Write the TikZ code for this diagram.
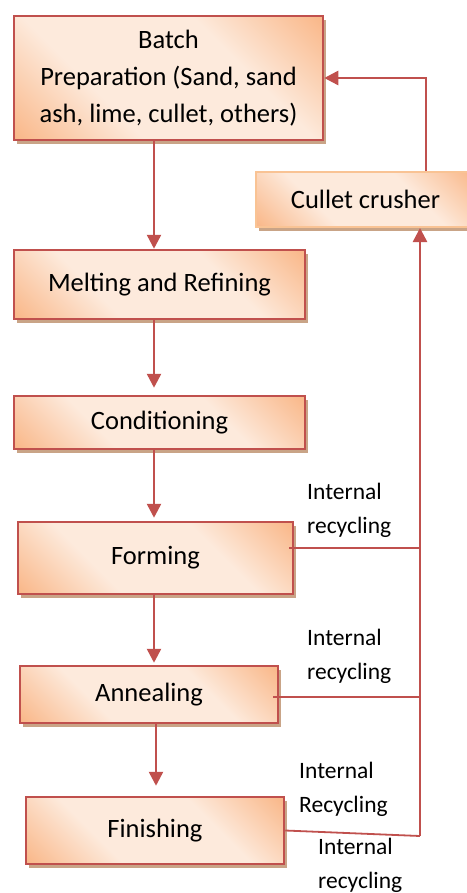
\documentclass[tikz,border=0pt]{standalone}
\usepackage{fontspec}
\setmainfont{Carlito}
\usetikzlibrary{arrows.meta,shadows}
\definecolor{boxred}{HTML}{C0504D}
\definecolor{boxorange}{HTML}{F9B585}
\definecolor{boxlight}{HTML}{FDEADC}
\definecolor{shadowtan}{HTML}{C9A487}
\definecolor{crushedge}{HTML}{F9C394}
\pgfdeclarehorizontalshading{stageshade}{100bp}{color(0bp)=(boxorange); color(14bp)=(boxorange); color(36bp)=(boxlight); color(64bp)=(boxlight); color(86bp)=(boxorange); color(100bp)=(boxorange)}
\tikzset{
  stage/.style={draw=boxred, line width=2.5pt, shading=stageshade, shading angle=45,
    drop shadow={shadow xshift=3pt, shadow yshift=-4pt, fill=shadowtan, opacity=1},
    align=center, inner sep=0pt, font=\fontsize{26.5}{37}\selectfont},
  flow/.style={draw=boxred, line width=2.5pt, -{Triangle[length=14pt,width=14pt]}},
  feed/.style={draw=boxred, line width=1.8pt},
  lbl/.style={align=left, anchor=west, inner sep=0pt, font=\fontsize{23.5}{34}\selectfont},
}
\begin{document}
\begin{tikzpicture}[x=1pt,y=-1pt]
\useasboundingbox (0,0) rectangle (466,893);
\node (batch) at (168.5,78) [stage, minimum width=309pt, minimum height=124pt] {Batch\\Preparation (Sand, sand\\ash, lime, cullet, others)};
\node (melt) at (159.5,284.5) [stage, minimum width=291pt, minimum height=69pt] {Melting and Refining};
\node (cond) at (159.5,422.5) [stage, minimum width=291pt, minimum height=53pt] {Conditioning};
\node (form) at (155.5,558) [stage, minimum width=275pt, minimum height=72pt] {Forming};
\node (anneal) at (149,694.5) [stage, minimum width=258pt, minimum height=57pt] {Annealing};
\node (finish) at (155,830.5) [stage, minimum width=258pt, minimum height=67pt] {Finishing};
\node (crusher) at (365.5,199.5) [stage, draw=crushedge, line width=2pt, minimum width=219pt, minimum height=55pt] {Cullet crusher};

\node (lblform) at (307,510) [lbl] {Internal\\recycling};
\node (lblanneal) at (307,656) [lbl] {Internal\\recycling};
\node (lblfinup) at (299,789) [lbl] {Internal\\Recycling};
\node (lblfindown) at (318,865) [lbl] {Internal\\recycling};

\coordinate (spine) at (154,0);
\coordinate (rail) at (420,0);
\coordinate (back) at (426,0);
\coordinate (railend) at (420,836);
\coordinate (formout) at ([shift={(-5,-10)}]form.east);
\coordinate (annealout) at ([shift={(-6,2.5)}]anneal.east);

\draw [flow] (batch.south -| spine) -- (melt.north -| spine);
\draw [flow, shorten >=7pt] (melt.south -| spine) -- (cond.north -| spine);
\draw [flow, shorten >=3pt] (cond.south -| spine) -- (form.north -| spine);
\draw [flow, shorten >=2pt] (form.south -| spine) -- (anneal.north -| spine);
\draw [flow, shorten >=10pt] ([xshift=2pt]anneal.south -| spine) -- ([xshift=2pt]finish.north -| spine);
\draw [feed] (formout) -- (formout -| rail);
\draw [feed] (annealout) -- (annealout -| rail);
\draw [feed] (finish.east) -- (railend);
\draw [flow] (railend) -- (crusher.south -| rail);
\draw [flow] (crusher.north -| back) |- (batch.east);
\end{tikzpicture}
\end{document}
